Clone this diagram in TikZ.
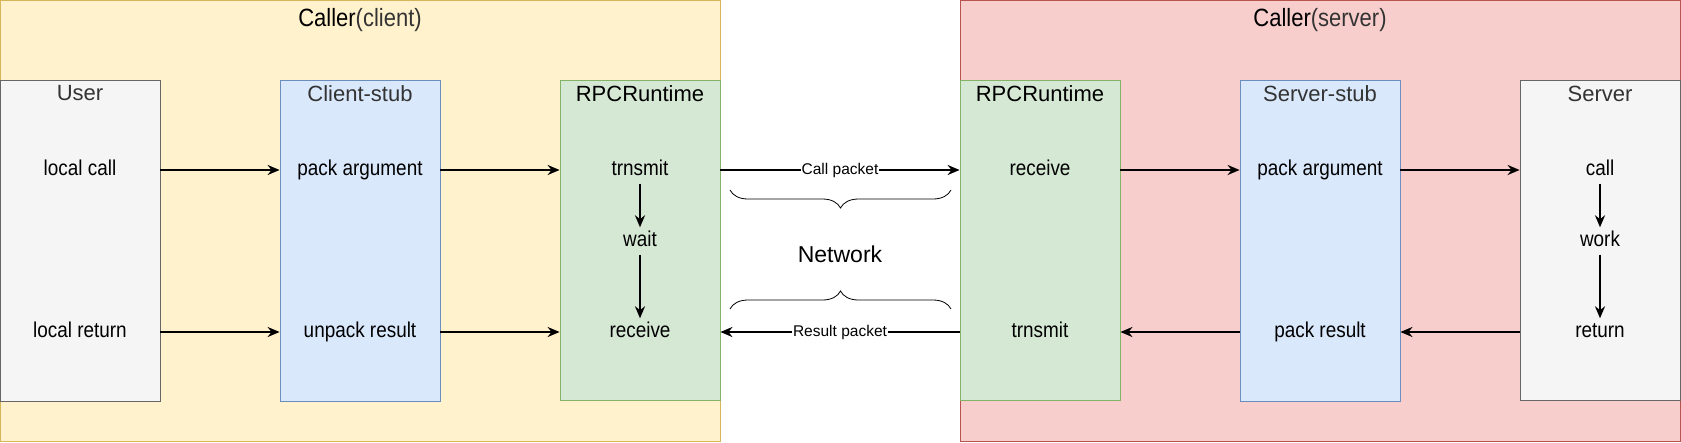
\documentclass[tikz,border=0pt]{standalone}
\usepackage{fontspec}
\setmainfont[FakeStretch=0.88]{Liberation Sans}
\newfontfamily\widefont{Liberation Sans}
\usetikzlibrary{arrows.meta,decorations.pathreplacing}
\definecolor{clientfill}{HTML}{FFF2CC}
\definecolor{clientline}{HTML}{D6B656}
\definecolor{serverfill}{HTML}{F8CECC}
\definecolor{serverline}{HTML}{B85450}
\definecolor{userfill}{HTML}{F5F5F5}
\definecolor{userline}{HTML}{666666}
\definecolor{stubfill}{HTML}{DAE8FC}
\definecolor{stubline}{HTML}{6C8EBF}
\definecolor{rpcfill}{HTML}{D5E8D4}
\definecolor{rpcline}{HTML}{82B366}
\definecolor{txtgray}{HTML}{333333}
\begin{document}
\begin{tikzpicture}[x=1pt,y=-1pt,
    side/.style={rectangle,draw,line width=1pt,minimum width=720pt,minimum height=441pt,inner sep=0pt},
    part/.style={rectangle,draw,line width=0.8pt,minimum width=160pt,minimum height=321pt,inner sep=0pt},
    sidetitle/.style={font=\fontsize{25}{29}\selectfont,inner sep=0pt},
    head/.style={anchor=north,font=\widefont\fontsize{22}{26}\selectfont,text=txtgray,inner sep=0pt,yshift=-6pt},
    txt/.style={font=\fontsize{21.5}{25}\selectfont,inner sep=4pt,text height=15pt,text depth=4pt},
    pkt/.style={font=\widefont\fontsize{15.5}{18}\selectfont,fill=white,inner sep=1pt},
    arr/.style={draw,line width=2pt,-{Stealth[length=12pt,width=10pt]}},
    brc/.style={draw,line width=0.8pt,decorate,decoration={brace,amplitude=18pt}}]
    \useasboundingbox (0,0) rectangle (1681,442);
    % the two sides
    \node[side,fill=clientfill,draw=clientline] (client) at (360,220.5) {};
    \node[side,fill=serverfill,draw=serverline] (server) at (1320,220.5) {};
    \node[sidetitle] (clienttitle) at (360,20) {Caller{\color{txtgray}(client)}};
    \node[sidetitle] (servertitle) at (1320,20) {Caller{\color{txtgray}(server)}};
    % boxes on the client side
    \node[part,fill=userfill,draw=userline] (user) at (80,240.5) {};
    \node[part,fill=stubfill,draw=stubline] (cstub) at (360,240.5) {};
    \node[part,fill=rpcfill,draw=rpcline,minimum height=320pt] (crpc) at (640,240) {};
    \node[head] (usertitle) at (user.north) {User};
    \node[head] (cstubtitle) at (cstub.north) {Client-stub};
    \node[head,text=black] (crpctitle) at (crpc.north) {RPCRuntime};
    % boxes on the server side
    \node[part,fill=rpcfill,draw=rpcline,minimum height=320pt] (srpc) at (1040,240) {};
    \node[part,fill=stubfill,draw=stubline] (sstub) at (1320,240.5) {};
    \node[part,fill=userfill,draw=userline,minimum height=320pt] (srv) at (1600,240) {};
    \node[head,text=black] (srpctitle) at (srpc.north) {RPCRuntime};
    \node[head] (sstubtitle) at (sstub.north) {Server-stub};
    \node[head] (srvtitle) at (srv.north) {Server};
    % steps
    \node[txt] (lcall) at (80,170) {local call};
    \node[txt] (lret) at (80,332) {local return};
    \node[txt] (cpack) at (360,170) {pack argument};
    \node[txt] (cunpack) at (360,332) {unpack result};
    \node[txt] (ctrans) at (640,170) {trnsmit};
    \node[txt] (cwait) at (640,241) {wait};
    \node[txt] (crecv) at (640,332) {receive};
    \node[txt] (srecv) at (1040,170) {receive};
    \node[txt] (strans) at (1040,332) {trnsmit};
    \node[txt] (spack) at (1320,170) {pack argument};
    \node[txt] (sres) at (1320,332) {pack result};
    \node[txt] (scall) at (1600,170) {call};
    \node[txt] (swork) at (1600,241) {work};
    \node[txt] (sret) at (1600,332) {return};
    \node[font=\widefont\fontsize{23}{27}\selectfont] (net) at (840,254) {Network};
    % calls going right
    \draw[arr] (lcall.east -| user.east) -- (lcall.east -| cstub.west);
    \draw[arr] (cpack.east -| cstub.east) -- (cpack.east -| crpc.west);
    \draw[arr] (ctrans.east -| crpc.east) -- node[pkt] {Call packet} (ctrans.east -| srpc.west);
    \draw[arr] (srecv.east -| srpc.east) -- (srecv.east -| sstub.west);
    \draw[arr] (spack.east -| sstub.east) -- (spack.east -| srv.west);
    \draw[arr] (lret.east -| user.east) -- (lret.east -| cstub.west);
    \draw[arr] (cunpack.east -| cstub.east) -- (cunpack.east -| crpc.west);
    % results going left
    \draw[arr] (sret.west -| srv.west) -- (sret.west -| sstub.east);
    \draw[arr] (sres.west -| sstub.west) -- (sres.west -| srpc.east);
    \draw[arr] (strans.west -| srpc.west) -- node[pkt] {Result packet} (strans.west -| crpc.east);
    % inside the runtimes
    \draw[arr] (ctrans) -- (cwait);
    \draw[arr] (cwait) -- (crecv);
    \draw[arr] (scall) -- (swork);
    \draw[arr] (swork) -- (sret);
    % network braces
    \draw[brc] (951,190) -- (730,190);
    \draw[brc] (730,309) -- (951,309);
\end{tikzpicture}
\end{document}
